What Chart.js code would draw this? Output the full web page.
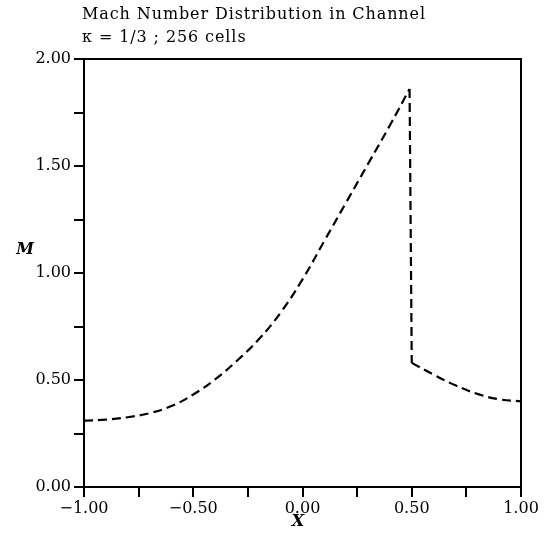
<!DOCTYPE html>
<html>
<head>
<meta charset="utf-8">
<script src="https://cdn.jsdelivr.net/npm/chart.js@4/dist/chart.umd.min.js"></script>
<style>
html,body{margin:0;padding:0;background:#fff;}
#wrap{width:551px;height:535px;position:relative;}
</style>
</head>
<body>
<div id="wrap"><canvas id="c" width="551" height="535"></canvas></div>
<script>
const titleLines = ["Mach Number Distribution in Channel", "\u03BA = 1/3 ; 256 cells"];
const xTitle = "X";
const yTitle = "M";
const xPositions = [-1.0, -0.9, -0.8, -0.7, -0.6, -0.5, -0.4, -0.3, -0.2, -0.1, 0.0, 0.1, 0.2, 0.3, 0.4, 0.49, 0.50, 0.6, 0.7, 0.8, 0.9, 1.0];
const machValues = [0.31, 0.315, 0.326, 0.345, 0.378, 0.432, 0.503, 0.59, 0.69, 0.815, 0.97, 1.15, 1.33, 1.51, 1.69, 1.86, 0.58, 0.525, 0.475, 0.435, 0.41, 0.40];
const xTickValues = [-1.0, -0.5, 0.0, 0.5, 1.0];
const yTickValues = [0.0, 0.5, 1.0, 1.5, 2.0];

const serif = "'DejaVu Serif', 'Liberation Serif', serif";

function fmt(v){
  const s = Math.abs(v).toFixed(2);
  return (v < -1e-9 ? "\u2212" : "") + s;
}
function isMajor(v, list){ return list.some(t => Math.abs(t - v) < 1e-6); }

// split at the shock (largest drop)
let shock = 0, best = 0;
for (let i = 1; i < machValues.length; i++) {
  const d = machValues[i - 1] - machValues[i];
  if (d > best) { best = d; shock = i; }
}
const pts = xPositions.map((x, i) => ({x: x, y: machValues[i]}));
const before = pts.slice(0, shock);
const jump = pts.slice(shock - 1, shock + 1);
const after = pts.slice(shock);

const framePlugin = {
  id: 'frame',
  afterDraw(chart){
    const {ctx, chartArea:a} = chart;
    ctx.save();
    ctx.strokeStyle = '#000';
    ctx.lineWidth = 2;
    ctx.strokeRect(a.left, a.top, a.right - a.left, a.bottom - a.top);
    ctx.fillStyle = '#000';
    ctx.textBaseline = 'middle';
    ctx.textAlign = 'left';
    ctx.font = "16px " + serif;
    try { ctx.letterSpacing = '0.9px'; } catch(e) {}
    ctx.fillText(titleLines[0], 82, 15);
    ctx.fillText(titleLines[1], 82, 38);
    try { ctx.letterSpacing = '0px'; } catch(e) {}
    ctx.font = "italic bold 16px " + serif;
    ctx.textAlign = 'center';
    ctx.fillText(yTitle, 25, 250);
    ctx.fillText(xTitle, 298, 522);
    ctx.restore();
  }
};

const lineStyle = {
  borderColor: '#000',
  borderWidth: 2.2,
  borderDash: [9, 5],
  pointRadius: 0,
  fill: false,
  tension: 0.4
};

new Chart(document.getElementById('c'), {
  type: 'line',
  data: {
    datasets: [
      Object.assign({data: before}, lineStyle),
      Object.assign({data: jump}, lineStyle, {tension: 0}),
      Object.assign({data: after}, lineStyle)
    ]
  },
  options: {
    responsive: false,
    animation: false,
    devicePixelRatio: 1,
    layout: {padding: {left: 0, right: 30, top: 59, bottom: 0}},
    plugins: {legend: {display: false}, tooltip: {enabled: false}, title: {display: false}},
    scales: {
      x: {
        type: 'linear', min: -1, max: 1,
        afterFit(s){ s.height = 48; },
        border: {display: true, color: '#000', width: 2},
        grid: {drawOnChartArea: false, drawTicks: true, tickLength: 10, color: '#000', lineWidth: 2},
        ticks: {
          stepSize: 0.25, autoSkip: false, maxRotation: 0, padding: 2,
          color: '#000', font: {family: serif, size: 16},
          callback: v => isMajor(v, xTickValues) ? fmt(v) : ''
        }
      },
      y: {
        type: 'linear', min: 0, max: 2,
        afterFit(s){ s.width = 84; },
        border: {display: true, color: '#000', width: 2},
        grid: {drawOnChartArea: false, drawTicks: true, tickLength: 10, color: '#000', lineWidth: 2},
        ticks: {
          stepSize: 0.25, autoSkip: false, padding: 3,
          color: '#000', font: {family: serif, size: 16},
          callback: v => isMajor(v, yTickValues) ? fmt(v) : ''
        }
      }
    }
  },
  plugins: [framePlugin]
});
</script>
</body>
</html>
